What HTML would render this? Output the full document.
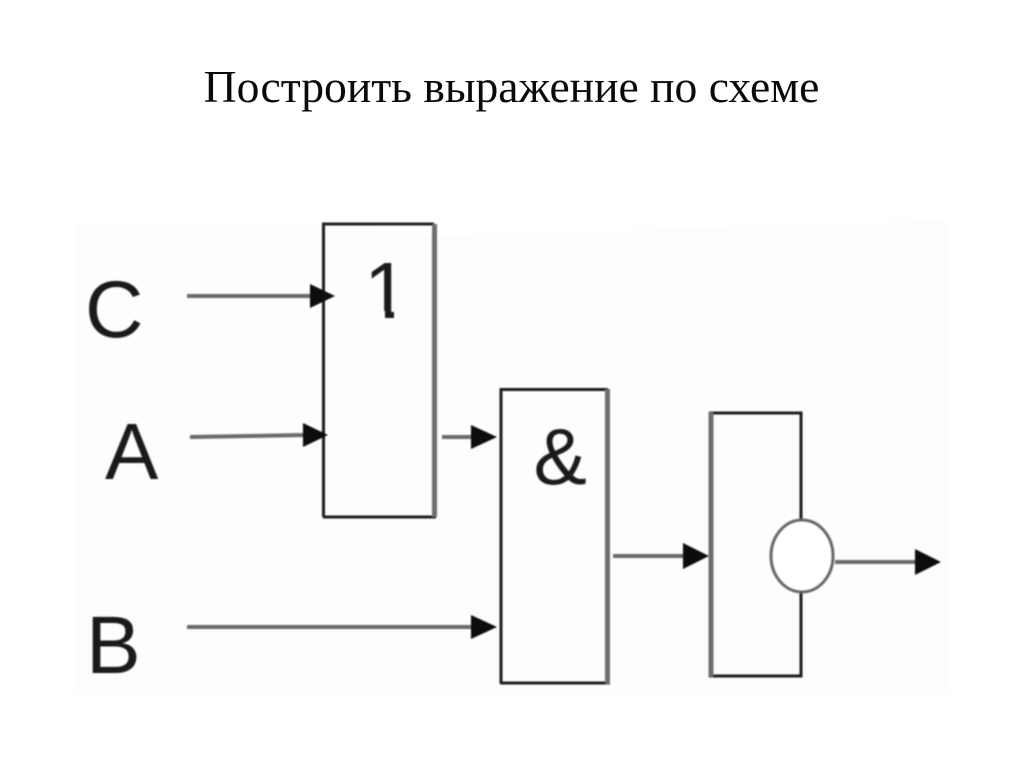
<!DOCTYPE html>
<html>
<head>
<meta charset="utf-8">
<style>
html,body{margin:0;padding:0;background:#fff;width:1024px;height:767px;overflow:hidden}
svg{display:block}
.d{filter:blur(0.8px)}
</style>
</head>
<body>
<svg width="1024" height="767" viewBox="0 0 1024 767" xmlns="http://www.w3.org/2000/svg">
<defs>
<clipPath id="one"><rect x="360" y="250" width="40" height="61"/><rect x="385" y="305" width="9" height="15"/></clipPath>
</defs>
<rect width="1024" height="767" fill="#fff"/>
<polygon points="75,224 322,224 436,236 948,220 948,694 75,694" fill="#fdfdfd"/>
<text x="511.500" y="102" text-anchor="middle" font-family="'Liberation Serif',serif" font-size="45.600" fill="#0a0a0a">Построить выражение по схеме</text>
<g class="d">
<g fill="none" stroke="#1c1c1c" stroke-width="3">
<path d="M323.500 517V224H434"/>
<path d="M323 517H436"/>
<path d="M501 683V389.500H608"/>
<path d="M500 683H610"/>
<path d="M709 413H801V520"/>
<path d="M801 592V676H709"/>
</g>
<g fill="none" stroke="#6e6e6e" stroke-width="5">
<path d="M434.500 224V517"/>
<path d="M607.500 389V684"/>
<path d="M711 412V677"/>
</g>
<ellipse cx="802" cy="556" rx="31" ry="36" fill="#fff" stroke="#666" stroke-width="3"/>
<g fill="none" stroke="#6a6a6a" stroke-width="4">
<path d="M187 296H318"/>
<path d="M190 437L306 435"/>
<path d="M442 437H474"/>
<path d="M187 627H474"/>
<path d="M613 556H686"/>
<path d="M835 562H918"/>
</g>
<g fill="#0c0c0c">
<polygon points="310,284 335,296 310,308"/>
<polygon points="303,423 328,435 303,447"/>
<polygon points="471,425 497,437 471,449"/>
<polygon points="471,615 497,627 471,639"/>
<polygon points="683,543 709,556 683,569"/>
<polygon points="915,549 941,562 915,575"/>
</g>
<g font-family="'Liberation Sans',sans-serif" fill="#1a1a1a">
<text x="85" y="337" font-size="81">C</text>
<text x="105" y="479" font-size="80">A</text>
<text x="86" y="673" font-size="82">B</text>
<text x="364" y="318" font-size="80" clip-path="url(#one)">1</text>
<text x="533.500" y="484" font-size="80">&amp;</text>
</g>
</g>
</svg>
</body>
</html>
